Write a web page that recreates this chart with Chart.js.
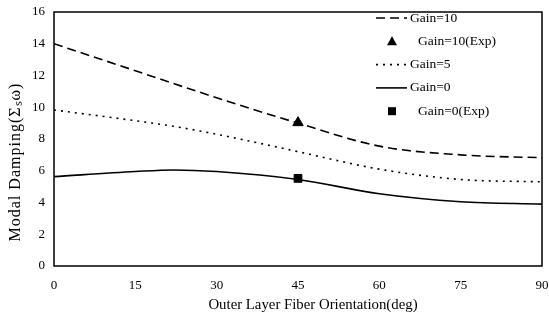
<!DOCTYPE html>
<html>
<head>
<meta charset="utf-8">
<script src="https://cdn.jsdelivr.net/npm/chart.js@4"></script>
<style>
  html, body { margin: 0; padding: 0; background: #fff; }
  #wrap { width: 549px; height: 321px; }
</style>
</head>
<body>
<div id="wrap"><canvas id="chart"></canvas></div>
<script>
// fiber orientation (deg) and modal damping values
const angles = [0, 15, 22, 30, 45, 60, 75, 90];
const gain10 = [14.0, 12.3, 11.5, 10.6, 9.0, 7.55, 7.0, 6.82];
const gain5 = [9.83, 9.15, 8.8, 8.3, 7.2, 6.1, 5.45, 5.3];
const gain0 = [5.63, 5.95, 6.05, 5.95, 5.45, 4.55, 4.05, 3.9];
const expAngles = [45];
const gain10Exp = [9.03];
const gain0Exp = [5.52];
const xTicks = [0, 15, 30, 45, 60, 75, 90];
const yTicks = [0, 2, 4, 6, 8, 10, 12, 14, 16];
const xTitle = 'Outer Layer Fiber Orientation(deg)';
const yTitle = 'Modal Damping(\u03A3\u209B\u03C9)';

const pts = (xs, ys) => xs.map((x, i) => ({ x: x, y: ys[i] }));
const serif = "'Liberation Serif', 'Times New Roman', serif";

// frame, axis titles and legend drawn by hand (the original sits the legend inside the plot)
const framePlugin = {
    id: 'frame',
    afterDraw(chart) {
        const ctx = chart.ctx;
        const a = chart.chartArea;
        ctx.save();
        ctx.strokeStyle = '#000';
        ctx.lineWidth = 1.5;
        ctx.strokeRect(a.left, a.top, a.right - a.left, a.bottom - a.top);

        ctx.fillStyle = '#000';
        ctx.textAlign = 'center';
        ctx.textBaseline = 'middle';
        ctx.font = '14.8px ' + serif;
        ctx.fillText(xTitle, 313, 305);

        ctx.save();
        ctx.translate(16, 162);
        ctx.rotate(-Math.PI / 2);
        ctx.font = '16px ' + serif;
        ctx.letterSpacing = '1px';
        ctx.fillText(yTitle, 0, 0);
        ctx.restore();

        // legend
        const x0 = 376, x1 = 407, tx = 410;
        let y = 18;
        ctx.textAlign = 'left';
        ctx.font = '13.5px ' + serif;
        chart.data.datasets.forEach(ds => {
            if (ds.showLine) {
                ctx.beginPath();
                ctx.setLineDash(ds.borderDash || []);
                ctx.lineWidth = ds.borderWidth;
                ctx.moveTo(x0, y);
                ctx.lineTo(x1, y);
                ctx.stroke();
                ctx.setLineDash([]);
            } else {
                const cx = 392;
                ctx.beginPath();
                if (ds.pointStyle === 'triangle') {
                    ctx.moveTo(cx, y - 5);
                    ctx.lineTo(cx + 5, y + 4);
                    ctx.lineTo(cx - 5, y + 4);
                    ctx.closePath();
                } else {
                    ctx.rect(cx - 4, y - 4, 8, 8);
                }
                ctx.fill();
            }
            ctx.fillText(ds.label, ds.showLine ? tx : tx + 8, y);
            y += 23.3;
        });
        ctx.restore();
    }
};

new Chart(document.getElementById('chart'), {
    type: 'scatter',
    data: {
        datasets: [
            {
                label: 'Gain=10',
                data: pts(angles, gain10),
                showLine: true,
                borderColor: '#000',
                borderWidth: 1.6,
                borderDash: [9, 5],
                pointRadius: 0,
                cubicInterpolationMode: 'monotone'
            },
            {
                label: 'Gain=10(Exp)',
                data: pts(expAngles, gain10Exp),
                showLine: false,
                pointStyle: 'triangle',
                pointRadius: 6,
                backgroundColor: '#000',
                borderColor: '#000'
            },
            {
                label: 'Gain=5',
                data: pts(angles, gain5),
                showLine: true,
                borderColor: '#000',
                borderWidth: 1.6,
                borderDash: [2, 5],
                pointRadius: 0,
                cubicInterpolationMode: 'monotone'
            },
            {
                label: 'Gain=0',
                data: pts(angles, gain0),
                showLine: true,
                borderColor: '#000',
                borderWidth: 1.6,
                pointRadius: 0,
                cubicInterpolationMode: 'monotone'
            },
            {
                label: 'Gain=0(Exp)',
                data: pts(expAngles, gain0Exp),
                showLine: false,
                pointStyle: 'rect',
                pointRadius: 5.5,
                backgroundColor: '#000',
                borderColor: '#000'
            }
        ]
    },
    options: {
        responsive: true,
        maintainAspectRatio: false,
        animation: false,
        layout: { padding: { top: 12, right: 7, left: 0, bottom: 0 } },
        plugins: {
            legend: { display: false },
            tooltip: { enabled: false }
        },
        scales: {
            x: {
                type: 'linear',
                min: 0,
                max: 90,
                afterBuildTicks: s => { s.ticks = xTicks.map(v => ({ value: v })); },
                afterFit: s => { s.height = 55; s.paddingLeft = 0; s.paddingRight = 0; },
                grid: { display: false, drawTicks: false },
                border: { display: false },
                ticks: { color: '#000', padding: 12, maxRotation: 0, font: { family: serif, size: 13 } }
            },
            y: {
                min: 0,
                max: 16,
                afterBuildTicks: s => { s.ticks = yTicks.map(v => ({ value: v })); },
                afterFit: s => { s.width = 54; s.paddingTop = 0; s.paddingBottom = 0; },
                grid: { display: false, drawTicks: false },
                border: { display: false },
                ticks: { color: '#000', padding: 9, font: { family: serif, size: 13 } }
            }
        }
    },
    plugins: [framePlugin]
});
</script>
</body>
</html>
